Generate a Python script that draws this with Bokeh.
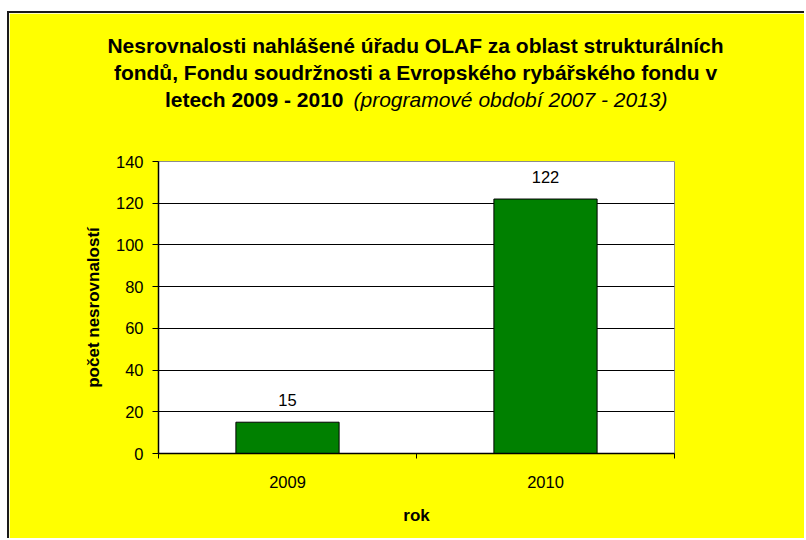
from bokeh.plotting import figure
from bokeh.models import FixedTicker, Label, Range1d
from bokeh.core.properties import value
from bokeh.embed import file_html
from bokeh.resources import INLINE

# ---- data ----
years = ["2009", "2010"]
counts = [15, 122]
y_ticks = [0, 20, 40, 60, 80, 100, 120, 140]
title_lines = [
    "Nesrovnalosti nahlášené úřadu OLAF za oblast strukturálních",
    "fondů, Fondu soudržnosti a Evropského rybářského fondu v",
]
title_bold_tail = "letech 2009 - 2010"
title_italic_tail = "(programové období 2007 - 2013)"
x_label = "rok"
y_label = "počet nesrovnalostí"

FONT = "Liberation Sans"
TICK_FS = "16.5px"

W, H = 797, 527
FL, FR, FT, FB = 149, 132, 148, 87

xs = [i + 0.5 for i in range(len(years))]
bounds = list(range(len(years) + 1))

p = figure(width=W, height=H, output_backend="svg", toolbar_location=None, tools="",
           x_range=Range1d(0, len(years)), y_range=Range1d(y_ticks[0], y_ticks[-1]),
           min_border_left=FL, min_border_right=FR, min_border_top=FT, min_border_bottom=FB,
           background_fill_color="white", border_fill_color="#FFFF00")
p.styles = {"margin-top": "11px", "margin-left": "7px",
            "border-left": "2px solid #1a1a1a", "border-top": "2px solid #1a1a1a"}

p.outline_line_color = "#8c8c8c"
p.outline_line_width = 1

# grid
p.xgrid.visible = False
p.ygrid.ticker = FixedTicker(ticks=y_ticks[1:-1])
p.ygrid.grid_line_color = "black"
p.ygrid.grid_line_width = 1

# bars
p.vbar(x=xs, top=counts, bottom=0, width=0.4, fill_color="#008000",
       line_color="black", line_width=1)

# data labels
p.text(x=xs, y=counts, text=[str(c) for c in counts], text_align="center",
       text_baseline="middle", y_offset=-22, text_font=value(FONT),
       text_font_size=TICK_FS, text_color="black")

# x axis
xa = p.xaxis[0]
xa.ticker = FixedTicker(ticks=xs, minor_ticks=bounds)
xa.major_label_overrides = {x: y for x, y in zip(xs, years)}
xa.major_tick_out = 0
xa.major_tick_in = 0
xa.minor_tick_out = 5
xa.minor_tick_in = 0
xa.minor_tick_line_color = "black"
xa.axis_line_color = "black"
xa.axis_line_width = 1.5
xa.major_label_text_font = FONT
xa.major_label_text_font_size = TICK_FS
xa.major_label_text_color = "black"
xa.major_label_standoff = 17
xa.axis_label = x_label
xa.axis_label_text_font = FONT
xa.axis_label_text_font_size = "17px"
xa.axis_label_text_font_style = "bold"
xa.axis_label_text_color = "black"
xa.axis_label_standoff = 15

# y axis
ya = p.yaxis[0]
ya.ticker = FixedTicker(ticks=y_ticks)
ya.major_tick_out = 6
ya.major_tick_in = 0
ya.minor_tick_line_color = None
ya.major_tick_line_color = "black"
ya.axis_line_color = "black"
ya.axis_line_width = 1.5
ya.major_label_text_font = FONT
ya.major_label_text_font_size = TICK_FS
ya.major_label_text_color = "black"
ya.major_label_standoff = 9
ya.axis_label = y_label
ya.axis_label_text_font = FONT
ya.axis_label_text_font_size = "17px"
ya.axis_label_text_font_style = "bold"
ya.axis_label_text_color = "black"
ya.axis_label_standoff = 10

# title: labels placed in the "above" panel (not clipped), canvas coordinates
TFS = "21px"
for i, line in enumerate(title_lines):
    p.add_layout(Label(x=404, y=30 + 27 * i, x_units="canvas", y_units="canvas",
                       text=line, text_align="center", text_baseline="middle",
                       text_font=FONT, text_font_size=TFS, text_font_style="bold",
                       text_color="black"), "above")
p.add_layout(Label(x=332, y=84, x_units="canvas", y_units="canvas",
                   text=title_bold_tail, text_align="right", text_baseline="middle",
                   text_font=FONT, text_font_size=TFS, text_font_style="bold",
                   text_color="black"), "above")
p.add_layout(Label(x=342, y=84, x_units="canvas", y_units="canvas",
                   text=title_italic_tail, text_align="left", text_baseline="middle",
                   text_font=FONT, text_font_size=TFS, text_font_style="italic",
                   text_color="black"), "above")

open("out.html", "w").write(file_html(p, INLINE))
